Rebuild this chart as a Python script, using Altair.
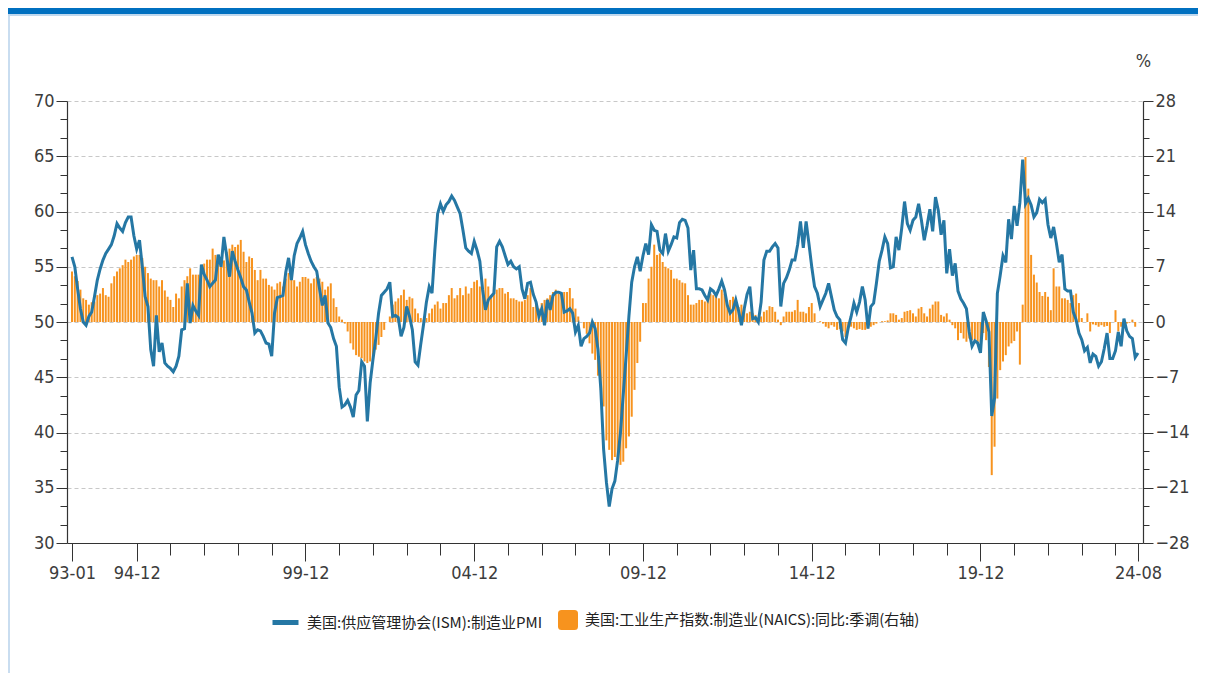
import altair as alt
import pandas as pd

# ---------------- data (monthly, 1993-01 .. 2024-08) ----------------
START_YEAR = 1993

PMI_NAME = "美国:供应管理协会(ISM):制造业PMI"
IP_NAME = "美国:工业生产指数:制造业(NAICS):同比:季调(右轴)"

PMI = [
    55.9, 55.0, 53.0, 51.2, 50.0, 49.7, 50.5, 50.9, 52.3, 53.8, 54.8, 55.6,  # 1993
    56.2, 56.6, 57.0, 57.8, 58.9, 58.5, 58.2, 59.0, 59.5, 59.5, 57.8, 56.6,  # 1994
    57.4, 55.0, 52.3, 51.4, 47.5, 46.0, 50.6, 47.3, 48.1, 46.3, 46.0, 45.8,  # 1995
    45.5, 46.0, 46.9, 49.3, 49.4, 53.5, 49.9, 51.5, 51.0, 50.6, 55.2, 54.3,  # 1996
    53.8, 53.2, 53.5, 53.8, 56.1, 55.0, 57.7, 56.0, 54.1, 56.4, 55.5, 54.7,  # 1997
    54.0, 53.2, 52.9, 51.8, 50.8, 49.0, 49.3, 49.2, 48.7, 48.1, 48.0, 46.9,  # 1998
    50.8, 52.2, 52.3, 52.4, 54.5, 55.8, 53.8, 56.0, 57.1, 57.6, 58.2, 57.0,  # 1999
    56.2, 55.5, 55.0, 54.6, 53.0, 51.5, 52.4, 49.9, 49.5, 48.5, 47.8, 44.1,  # 2000
    42.3, 42.5, 42.9, 42.3, 41.4, 43.4, 43.8, 46.4, 46.0, 41.0, 44.5, 46.6,  # 2001
    48.5, 50.8, 52.4, 52.7, 53.0, 53.6, 50.5, 50.6, 50.4, 48.7, 49.5, 51.4,  # 2002
    50.5, 49.3, 46.4, 46.1, 48.0, 49.8, 51.8, 53.2, 52.6, 56.5, 59.8, 60.7,  # 2003
    60.0, 60.6, 60.9, 61.4, 61.0, 60.4, 59.8, 58.3, 56.7, 56.4, 56.2, 57.3,  # 2004
    56.5, 55.5, 52.9, 51.1, 52.0, 52.3, 52.6, 56.8, 57.3, 56.8, 56.0, 55.2,  # 2005
    55.5, 55.0, 54.8, 55.0, 53.0, 52.1, 53.5, 53.6, 52.5, 51.8, 50.5, 51.2,  # 2006
    49.7, 52.0, 51.1, 52.4, 52.7, 52.7, 52.6, 50.9, 51.0, 51.2, 50.8, 49.1,  # 2007
    49.7, 47.8, 48.5, 48.7, 49.0, 50.0, 49.4, 47.5, 44.0, 38.5, 35.5, 33.3,  # 2008
    34.9, 35.6, 37.5, 40.0, 43.5, 46.9, 50.5, 53.6, 55.0, 55.9, 54.6, 56.0,  # 2009
    57.1, 56.1, 58.8, 58.3, 58.2, 56.5, 56.2, 58.0, 56.4, 57.0, 57.7, 57.6,  # 2010
    59.0, 59.3, 59.2, 58.5, 54.7, 56.5, 53.0, 53.0, 52.9, 52.4, 52.0, 53.0,  # 2011
    52.8, 52.4, 53.0, 53.7, 52.9, 51.5, 50.8, 51.1, 52.0, 51.0, 49.7, 51.2,  # 2012
    52.5, 53.2, 50.3, 50.4, 50.0, 51.8, 55.6, 56.4, 56.4, 56.8, 57.1, 56.7,  # 2013
    51.4, 53.5, 54.0, 54.7, 55.6, 55.6, 57.0, 59.1, 56.7, 59.1, 57.1, 55.0,  # 2014
    53.2, 52.6, 51.4, 52.0, 52.6, 53.5, 52.3, 51.1, 50.5, 50.2, 48.4, 48.1,  # 2015
    49.5, 50.5, 51.7, 50.9, 51.8, 53.2, 52.0, 49.4, 51.4, 51.7, 53.5, 55.5,  # 2016
    56.5, 57.7, 57.1, 54.9, 55.0, 57.7, 56.5, 58.5, 60.9, 58.9, 58.3, 59.2,  # 2017
    59.5, 60.7, 59.2, 57.4, 58.7, 60.2, 58.2, 61.3, 60.1, 57.9, 59.2, 54.4,  # 2018
    56.6, 54.2, 55.3, 52.8, 52.1, 51.7, 51.2, 49.1, 47.8, 48.3, 48.1, 47.2,  # 2019
    50.9, 50.1, 49.1, 41.5, 43.1, 52.6, 54.2, 56.0, 55.4, 59.3, 57.5, 60.5,  # 2020
    58.7, 60.8, 64.7, 60.7, 61.2, 60.6, 59.5, 59.9, 61.1, 60.8, 61.1, 58.8,  # 2021
    57.6, 58.6, 57.1, 55.4, 56.1, 53.0, 52.8, 52.8, 50.9, 50.2, 49.0, 48.4,  # 2022
    47.4, 47.7, 46.3, 47.1, 46.9, 46.0, 46.4, 47.6, 49.0, 46.7, 46.7, 47.4,  # 2023
    49.1, 47.8, 50.3, 49.2, 48.7, 48.5, 46.8, 47.2,                          # 2024
]

IP = [
    6.4, 5.8, 5.2, 4.1, 3.0, 2.8, 2.2, 2.5, 2.6, 3.4, 3.6, 4.3,  # 1993
    3.4, 3.2, 4.9, 5.8, 6.4, 6.8, 7.2, 7.9, 7.6, 7.9, 8.3, 8.5,  # 1994
    8.5, 8.1, 7.0, 6.2, 5.5, 5.3, 5.3, 4.5, 5.3, 4.0, 3.2, 2.8,  # 1995
    1.9, 3.6, 3.0, 4.5, 5.3, 5.8, 6.8, 6.0, 6.0, 6.0, 6.8, 7.4,  # 1996
    7.9, 7.9, 9.3, 8.5, 8.1, 7.6, 7.8, 8.9, 9.3, 9.8, 9.5, 9.8,  # 1997
    10.4, 8.9, 7.6, 8.3, 8.1, 6.6, 5.3, 6.6, 5.5, 5.5, 4.7, 4.5,  # 1998
    4.1, 4.9, 5.1, 4.5, 5.5, 6.2, 6.0, 5.3, 4.5, 5.1, 5.7, 5.7,  # 1999
    5.5, 4.9, 5.5, 5.7, 5.5, 5.1, 4.1, 4.5, 4.9, 3.0, 1.9, 0.7,  # 2000
    0.3, -0.2, -1.2, -2.7, -3.5, -4.2, -4.4, -4.6, -5.0, -5.2, -5.0, -4.4,  # 2001
    -3.5, -2.9, -1.9, -1.0, 0.0, 0.7, 2.2, 2.6, 3.0, 3.4, 4.1, 2.8,  # 2002
    3.2, 3.0, 1.7, 1.1, 0.5, 0.3, 0.5, 1.1, 1.7, 2.2, 2.6, 1.7,  # 2003
    2.4, 2.4, 3.4, 4.3, 3.0, 3.4, 4.3, 3.4, 4.5, 3.6, 4.3, 5.1,  # 2004
    5.3, 4.5, 4.3, 5.5, 4.5, 3.4, 4.5, 4.1, 4.3, 4.3, 3.6, 3.8,  # 2005
    3.0, 3.0, 2.8, 2.6, 2.6, 2.8, 3.4, 4.3, 1.9, 2.4, 1.7, 2.4,  # 2006
    2.8, 3.0, 3.4, 3.8, 4.1, 3.6, 3.6, 3.8, 3.8, 4.3, 3.0, 1.7,  # 2007
    0.7, 0.0, -0.8, -1.5, -2.7, -4.0, -4.8, -6.8, -8.6, -10.7, -15.0, -16.2,  # 2008
    -17.5, -17.1, -17.5, -18.1, -17.7, -16.0, -14.5, -12.0, -8.6, -5.2, -2.5, 2.4,  # 2009
    2.4, 5.5, 7.0, 9.8, 8.5, 8.7, 7.6, 7.0, 6.8, 6.6, 5.5, 5.5,  # 2010
    5.3, 5.0, 4.9, 3.4, 2.2, 2.2, 2.4, 2.8, 2.8, 2.6, 3.0, 3.6,  # 2011
    3.4, 3.2, 3.0, 4.1, 3.6, 2.2, 2.8, 3.2, 2.5, 1.9, 2.2, 1.7,  # 2012
    1.1, 1.3, 1.1, 0.9, 0.5, 0.7, 1.3, 1.5, 2.0, 1.9, 1.3, 0.3,  # 2013
    -0.4, 0.7, 1.3, 1.3, 1.3, 1.5, 2.8, 1.3, 1.3, 1.1, 1.9, 2.4,  # 2014
    1.1, 0.0, 0.1, -0.2, -0.6, -0.8, -0.4, -0.6, -1.0, -0.9, -1.2, -1.9,  # 2015
    -0.8, -0.6, -0.8, -1.0, -0.9, -1.0, -1.0, -0.8, -0.6, -0.4, -0.2, 0.0,  # 2016
    0.1, 0.1, 0.2, 1.1, 1.1, 0.9, 0.3, 0.5, 1.3, 1.4, 1.5, 1.1,  # 2017
    0.7, 1.7, 1.9, 1.1, 0.7, 1.7, 2.2, 2.6, 2.6, 0.9, 0.7, 1.1,  # 2018
    0.3, -0.4, -0.8, -2.3, -1.4, -2.1, -2.5, -2.1, -2.3, -2.2, -2.5, -2.6,  # 2019
    -1.4, -2.3, -5.7, -19.4, -15.8, -9.7, -6.1, -5.0, -4.2, -3.1, -2.7, -2.4,  # 2020
    -1.2, -5.4, 2.2, 20.9, 16.9, 8.5, 6.0, 5.0, 3.8, 3.3, 3.8, 3.2,  # 2021
    1.5, 6.8, 4.5, 4.5, 3.0, 3.0, 2.8, 2.4, 3.4, 3.6, 2.4, 0.5,  # 2022
    0.0, 1.1, -1.2, -0.3, -0.4, -0.6, -0.4, -0.6, -0.5, -1.4, 0.0, 1.5,  # 2023
    -1.2, -0.6, 0.0, -0.2, -0.1, 0.3, -0.6, 0.0,  # 2024
]

X_TICK_LABELS = ["93-01", "94-12", "99-12", "04-12", "09-12", "14-12", "19-12", "24-08"]
LEFT_DOMAIN = [30, 70]
LEFT_STEP = 5
RIGHT_DOMAIN = [-28, 28]
RIGHT_STEP = 7

# ---------------- styling ----------------
BLUE = "#2577A4"
ORANGE = "#F7931E"
AXIS_COLOR = "#333333"
LABEL_COLOR = "#3c3c3c"
TICK_FONT = "Liberation Sans Narrow, DejaVu Sans Condensed, Liberation Sans, sans-serif"
CJK_FONT = "Noto Sans CJK SC, sans-serif"

W, H = 1076, 442
PAD = {"left": 59, "top": 93, "right": 55, "bottom": 130}

n = len(PMI)
idx = list(range(n))
df = pd.DataFrame({"m": idx, "pmi": PMI, "ip": IP,
                   "s1": [PMI_NAME] * n, "s2": [IP_NAME] * n})


def label_to_index(lbl):
    yy, mm = lbl.split("-")
    yy = int(yy)
    year = 1900 + yy if yy >= 50 else 2000 + yy
    return (year - START_YEAR) * 12 + int(mm) - 1


LABEL_IDX = [label_to_index(t) for t in X_TICK_LABELS]
last_year = START_YEAR + (n - 1) // 12
tick_vals = sorted(set([0, n - 1] + [(y - START_YEAR) * 12 + 11 for y in range(START_YEAR + 1, last_year)]))

idx_js = "[" + ",".join(str(i) for i in LABEL_IDX) + "]"
txt_js = "[" + ",".join("'" + t + "'" for t in X_TICK_LABELS) + "]"
x_major = f"indexof({idx_js}, datum.value) >= 0"
x_label_expr = f"{x_major} ? {txt_js}[indexof({idx_js}, datum.value)] : ''"

x_enc = alt.X(
    "m:Q",
    scale=alt.Scale(domain=[0, n - 1], nice=False, zero=False),
    axis=alt.Axis(
        values=tick_vals, labelExpr=x_label_expr, title=None, grid=False,
        tickSize=alt.condition(x_major, alt.value(18), alt.value(12)),
        tickColor=AXIS_COLOR, tickWidth=1, domainColor=AXIS_COLOR, domainWidth=1.2,
        labelFont=TICK_FONT, labelFontSize=18, labelColor=LABEL_COLOR,
        labelPadding=3, labelFlush=False, labelOverlap=False,
    ),
)

left_vals = [round(LEFT_DOMAIN[0] + i * LEFT_STEP / 3, 4)
             for i in range(int((LEFT_DOMAIN[1] - LEFT_DOMAIN[0]) / LEFT_STEP * 3) + 1)]
right_vals = [round(RIGHT_DOMAIN[0] + i * RIGHT_STEP / 3, 4)
              for i in range(int((RIGHT_DOMAIN[1] - RIGHT_DOMAIN[0]) / RIGHT_STEP * 3) + 1)]
left_major = f"abs(datum.value/{LEFT_STEP} - round(datum.value/{LEFT_STEP})) < 0.01"
right_major = f"abs(datum.value/{RIGHT_STEP} - round(datum.value/{RIGHT_STEP})) < 0.01"

y_left = alt.Y(
    "pmi:Q",
    scale=alt.Scale(domain=LEFT_DOMAIN, nice=False, zero=False),
    axis=alt.Axis(
        orient="left", values=left_vals, title=None,
        labelExpr=f"{left_major} ? format(round(datum.value), 'd') : ''",
        tickSize=alt.condition(left_major, alt.value(11), alt.value(7)),
        grid=True, gridColor="#c8c8c8", gridDash=[4, 3], gridWidth=1,
        gridOpacity=alt.condition(f"{left_major} && datum.value > {LEFT_DOMAIN[0]}", alt.value(1), alt.value(0)),
        tickColor=AXIS_COLOR, domainColor=AXIS_COLOR, domainWidth=1.2,
        labelFont=TICK_FONT, labelFontSize=18, labelColor=LABEL_COLOR,
        labelPadding=2, labelOverlap=False, labelFlush=False,
    ),
)

y_right = alt.Y(
    "ip:Q",
    scale=alt.Scale(domain=RIGHT_DOMAIN, nice=False),
    axis=alt.Axis(
        orient="right", values=right_vals,
        labelExpr=f"{right_major} ? format(round(datum.value), 'd') : ''",
        tickSize=alt.condition(right_major, alt.value(10), alt.value(6)),
        grid=False, tickColor=AXIS_COLOR, domainColor=AXIS_COLOR, domainWidth=1.2,
        labelFont=TICK_FONT, labelFontSize=18, labelColor=LABEL_COLOR,
        labelPadding=2, labelOverlap=False, labelFlush=False,
        title="%", titleAngle=0, titleX=0, titleY=-40, titleAlign="center",
        titleBaseline="middle", titleFont=TICK_FONT, titleFontSize=18,
        titleFontWeight="normal", titleColor=LABEL_COLOR,
    ),
)

ROUND_SQ = ("M -1 -0.65 Q -1 -1 -0.65 -1 L 0.65 -1 Q 1 -1 1 -0.65 L 1 0.65 "
            "Q 1 1 0.65 1 L -0.65 1 Q -1 1 -1 0.65 Z")

bars = alt.Chart(df).mark_bar(size=2).encode(
    x=x_enc,
    y=y_right,
    fill=alt.Fill("s2:N", scale=alt.Scale(domain=[IP_NAME], range=[ORANGE]),
                  legend=alt.Legend(orient="none", legendX=491, legendY=509, title=None,
                                    symbolType=ROUND_SQ, symbolSize=400, symbolStrokeWidth=0,
                                    labelFont=CJK_FONT, labelFontSize=15, labelColor="#222222",
                                    labelLimit=800, labelOffset=7, padding=0)),
)

line = alt.Chart(df).mark_line(strokeWidth=3).encode(
    x=x_enc,
    y=y_left,
    stroke=alt.Stroke("s1:N", scale=alt.Scale(domain=[PMI_NAME], range=[BLUE]),
                      legend=alt.Legend(orient="none", legendX=203, legendY=506, title=None,
                                        symbolType="stroke", symbolSize=676, symbolStrokeWidth=5,
                                        labelFont=CJK_FONT, labelFontSize=15, labelColor="#222222",
                                        labelLimit=800, labelOffset=6, padding=0)),
)

# page frame decoration (top band, thin rule, left border)
frame_df = pd.DataFrame({"part": ["band", "rule", "left"],
                         "color": ["#0070C0", "#BFD8EE", "#C9DDF0"]})
total_w = PAD["left"] + W + PAD["right"]
total_h = PAD["top"] + H + PAD["bottom"]
band = alt.Chart(frame_df).transform_filter("datum.part == 'band'").mark_rect(color="#0070C0").encode(
    x=alt.value(-PAD["left"]), x2=alt.value(total_w - PAD["left"]),
    y=alt.value(-PAD["top"]), y2=alt.value(-PAD["top"] + 6))
rule = alt.Chart(frame_df).transform_filter("datum.part == 'rule'").mark_rect(color="#BFD8EE").encode(
    x=alt.value(-PAD["left"]), x2=alt.value(total_w - PAD["left"]),
    y=alt.value(-PAD["top"] + 6), y2=alt.value(-PAD["top"] + 8))
left_border = alt.Chart(frame_df).transform_filter("datum.part == 'left'").mark_rect(color="#C9DDF0").encode(
    x=alt.value(-PAD["left"]), x2=alt.value(-PAD["left"] + 2),
    y=alt.value(-PAD["top"] + 8), y2=alt.value(total_h - PAD["top"]))

chart = alt.layer(band, rule, left_border, bars, line).resolve_scale(
    y="independent", fill="independent", stroke="independent"
).properties(
    width=W, height=H,
    autosize=alt.AutoSizeParams(type="none"),
    padding=PAD,
    background="white",
).configure_view(stroke=None)

chart.save("out.html", embed_options={"renderer": "svg", "actions": False})
